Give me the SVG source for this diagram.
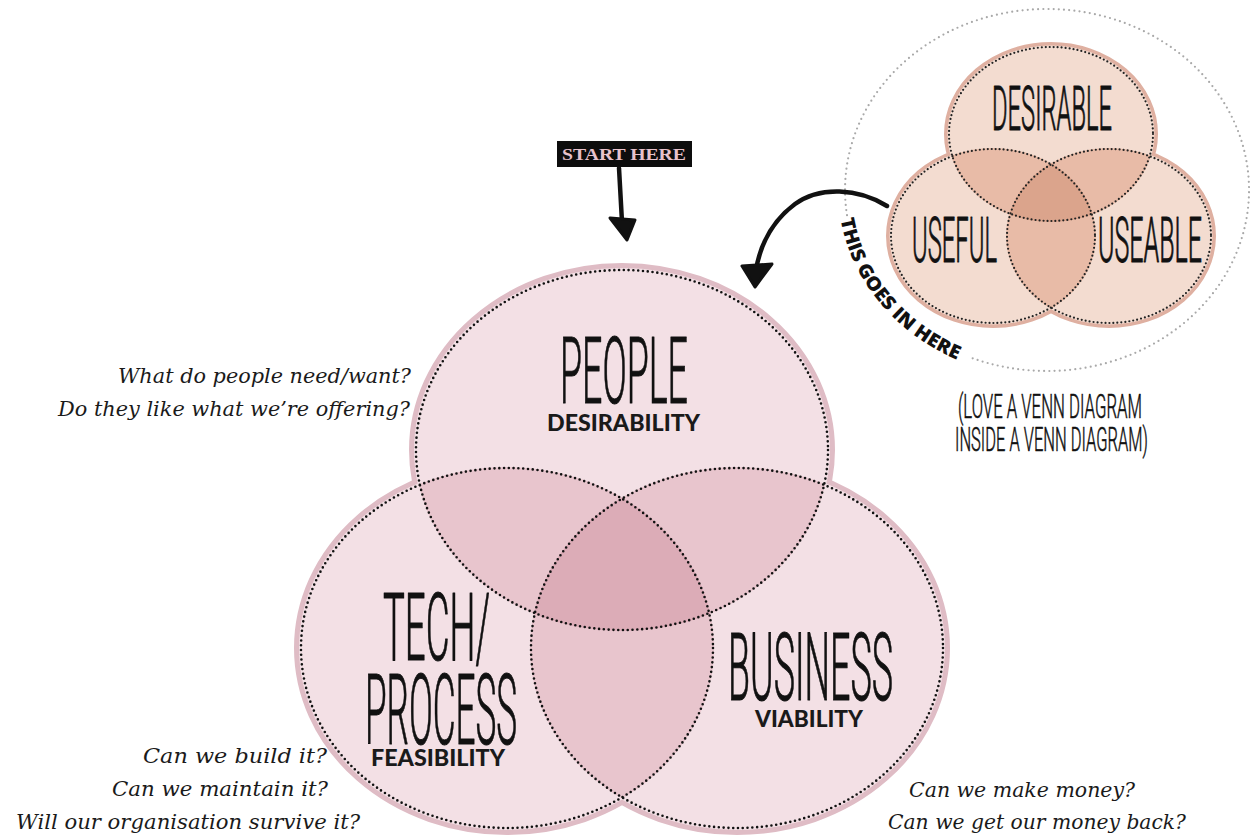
<svg xmlns="http://www.w3.org/2000/svg" width="1250" height="837" viewBox="0 0 1250 837">
  <style>
    .ring { fill: none; stroke: #dfbcc5; stroke-width: 6; }
    .fill { fill: #f3e0e5; }
    .pair { fill: #e8c5cd; }
    .triple { fill: #dcacb7; }
    .sring { fill: none; stroke: #dfb0a1; stroke-width: 4; }
    .sfill { fill: #f3dcd0; }
    .spair { fill: #e8bba7; }
    .striple { fill: #dba48c; }
    .dots { fill: none; stroke: #111; stroke-width: 2.6; stroke-linecap: round; stroke-dasharray: 0 4.8; }
    .sdots { fill: none; stroke: #222; stroke-width: 2.2; stroke-linecap: round; stroke-dasharray: 0 4; }
    .grey { fill: none; stroke: #a9a9a9; stroke-width: 2.2; stroke-linecap: round; stroke-dasharray: 0 5.2; }
    .hand { font-family: Roboto, "Open Sans", "DejaVu Sans", sans-serif; font-weight: 300; fill: #111; stroke: #111; stroke-width: 1; stroke-linejoin: round; }
    .sub { font-family: Lato, "Noto Sans", "Liberation Sans", sans-serif; font-weight: 900; fill: #1a1a1a; }
    .q { font-family: "DejaVu Serif", "Liberation Serif", serif; font-style: italic; font-size: 21px; fill: #1a1a1a; }
    .ink { fill: none; stroke: #111; stroke-width: 4.5; stroke-linecap: round; stroke-linejoin: round; }
    .head { fill: #111; stroke: #111; stroke-width: 3; stroke-linejoin: round; }
  </style>
  <defs>
    <clipPath id="clip-people"><ellipse cx="622" cy="450" rx="207" ry="181"/></clipPath>
    <clipPath id="clip-tech"><ellipse cx="507" cy="648" rx="207" ry="181"/></clipPath>
    <clipPath id="clip-biz"><ellipse cx="737" cy="648" rx="207" ry="181"/></clipPath>
    <clipPath id="clip-desirable"><ellipse cx="1051" cy="134" rx="103" ry="88"/></clipPath>
    <clipPath id="clip-useful"><ellipse cx="993" cy="236" rx="103" ry="88"/></clipPath>
    <clipPath id="clip-useable"><ellipse cx="1109" cy="236" rx="103" ry="88"/></clipPath>
    <path id="arc-label" d="M 840.6 219.4 A 209 188 0 0 0 1010.7 375.1"/>
  </defs>

  <rect width="1250" height="837" fill="#ffffff"/>

  <!-- main three-set Venn: outer rims, fills, overlaps, dotted outlines -->
  <g id="main-venn">
    <ellipse class="ring" cx="622" cy="450" rx="210" ry="184"/>
    <ellipse class="ring" cx="507" cy="648" rx="210" ry="184"/>
    <ellipse class="ring" cx="737" cy="648" rx="210" ry="184"/>
    <ellipse class="fill" cx="622" cy="450" rx="208" ry="182"/>
    <ellipse class="fill" cx="507" cy="648" rx="208" ry="182"/>
    <ellipse class="fill" cx="737" cy="648" rx="208" ry="182"/>
    <g clip-path="url(#clip-people)">
      <ellipse class="pair" cx="507" cy="648" rx="207" ry="181"/>
      <ellipse class="pair" cx="737" cy="648" rx="207" ry="181"/>
    </g>
    <g clip-path="url(#clip-tech)">
      <ellipse class="pair" cx="737" cy="648" rx="207" ry="181"/>
    </g>
    <g clip-path="url(#clip-people)">
      <g clip-path="url(#clip-tech)">
        <ellipse class="triple" cx="737" cy="648" rx="207" ry="181"/>
      </g>
    </g>
    <ellipse class="dots" cx="622" cy="450" rx="206" ry="180"/>
    <ellipse class="dots" cx="507" cy="648" rx="206" ry="180"/>
    <ellipse class="dots" cx="737" cy="648" rx="206" ry="180"/>
  </g>

  <g id="node-people">
    <text class="hand" x="560" y="403" font-size="93" textLength="128" lengthAdjust="spacingAndGlyphs">PEOPLE</text>
    <text class="sub" x="547" y="431" font-size="23" textLength="153" lengthAdjust="spacingAndGlyphs">DESIRABILITY</text>
  </g>
  <g id="node-tech">
    <text class="hand" x="383" y="660" font-size="95" textLength="107" lengthAdjust="spacingAndGlyphs">TECH/</text>
    <text class="hand" x="365" y="744" font-size="98" textLength="152" lengthAdjust="spacingAndGlyphs">PROCESS</text>
    <text class="sub" x="371" y="766" font-size="23" textLength="134" lengthAdjust="spacingAndGlyphs">FEASIBILITY</text>
  </g>
  <g id="node-business">
    <text class="hand" x="728" y="700" font-size="94" textLength="165" lengthAdjust="spacingAndGlyphs">BUSINESS</text>
    <text class="sub" x="755" y="727" font-size="23" textLength="108" lengthAdjust="spacingAndGlyphs">VIABILITY</text>
  </g>

  <!-- questions beside each set -->
  <g id="questions-people">
    <text class="q" x="118" y="383" textLength="293" lengthAdjust="spacingAndGlyphs">What do people need/want?</text>
    <text class="q" x="58" y="416" textLength="352" lengthAdjust="spacingAndGlyphs">Do they like what we’re offering?</text>
  </g>
  <g id="questions-tech">
    <text class="q" x="143" y="763" textLength="184" lengthAdjust="spacingAndGlyphs">Can we build it?</text>
    <text class="q" x="112" y="796" textLength="216" lengthAdjust="spacingAndGlyphs">Can we maintain it?</text>
    <text class="q" x="16" y="829" textLength="344" lengthAdjust="spacingAndGlyphs">Will our organisation survive it?</text>
  </g>
  <g id="questions-business">
    <text class="q" x="909" y="797" textLength="226" lengthAdjust="spacingAndGlyphs">Can we make money?</text>
    <text class="q" x="888" y="829" textLength="298" lengthAdjust="spacingAndGlyphs">Can we get our money back?</text>
  </g>

  <!-- start marker -->
  <g id="node-start">
    <rect x="557" y="141" width="135" height="26" fill="#0d0d0d"/>
    <text x="624" y="160" text-anchor="middle" font-family="'Liberation Serif', serif" font-weight="bold" font-size="16" fill="#e8c2cc" textLength="124" lengthAdjust="spacingAndGlyphs">START HERE</text>
  </g>

  <!-- small Venn inside a dotted ring -->
  <g id="small-venn">
    <path class="grey" d="M 847 215.2 A 202 181 0 1 1 968.1 356.6"/>
    <ellipse class="sring" cx="1051" cy="134" rx="105" ry="90"/>
    <ellipse class="sring" cx="993" cy="236" rx="105" ry="90"/>
    <ellipse class="sring" cx="1109" cy="236" rx="105" ry="90"/>
    <ellipse class="sfill" cx="1051" cy="134" rx="103.5" ry="88.5"/>
    <ellipse class="sfill" cx="993" cy="236" rx="103.5" ry="88.5"/>
    <ellipse class="sfill" cx="1109" cy="236" rx="103.5" ry="88.5"/>
    <g clip-path="url(#clip-desirable)">
      <ellipse class="spair" cx="993" cy="236" rx="103" ry="88"/>
      <ellipse class="spair" cx="1109" cy="236" rx="103" ry="88"/>
    </g>
    <g clip-path="url(#clip-useful)">
      <ellipse class="spair" cx="1109" cy="236" rx="103" ry="88"/>
    </g>
    <g clip-path="url(#clip-desirable)">
      <g clip-path="url(#clip-useful)">
        <ellipse class="striple" cx="1109" cy="236" rx="103" ry="88"/>
      </g>
    </g>
    <ellipse class="sdots" cx="1051" cy="134" rx="102" ry="87"/>
    <ellipse class="sdots" cx="993" cy="236" rx="102" ry="87"/>
    <ellipse class="sdots" cx="1109" cy="236" rx="102" ry="87"/>
  </g>
  <g id="node-desirable">
    <text class="hand" x="992" y="130" font-size="62" textLength="120" lengthAdjust="spacingAndGlyphs">DESIRABLE</text>
  </g>
  <g id="node-useful">
    <text class="hand" x="912" y="262" font-size="63" textLength="85" lengthAdjust="spacingAndGlyphs">USEFUL</text>
  </g>
  <g id="node-useable">
    <text class="hand" x="1098" y="262" font-size="63" textLength="104" lengthAdjust="spacingAndGlyphs">USEABLE</text>
  </g>

  <g id="note">
    <text class="hand" x="958" y="418" font-size="33" textLength="184" lengthAdjust="spacingAndGlyphs" style="stroke-width:0.6">(LOVE A VENN DIAGRAM</text>
    <text class="hand" x="955" y="451" font-size="33" textLength="193" lengthAdjust="spacingAndGlyphs" style="stroke-width:0.6">INSIDE A VENN DIAGRAM)</text>
  </g>

  <g id="arc-caption">
    <text font-family="'Open Sans', 'Noto Sans', sans-serif" font-weight="800" font-size="19" fill="#111">
      <textPath href="#arc-label" textLength="190" lengthAdjust="spacingAndGlyphs">THIS GOES IN HERE</textPath>
    </text>
  </g>

  <!-- connectors -->
  <g id="connectors">
    <path class="ink" d="M 619 168 L 622 222"/>
    <polygon class="head" points="610,218 635,220 627,240"/>
    <path class="ink" d="M 887 206 C 858 188 820 186 795 204 C 775 219 761 240 756 270"/>
    <polygon class="head" points="742,266 772,264 755,287"/>
  </g>
</svg>
